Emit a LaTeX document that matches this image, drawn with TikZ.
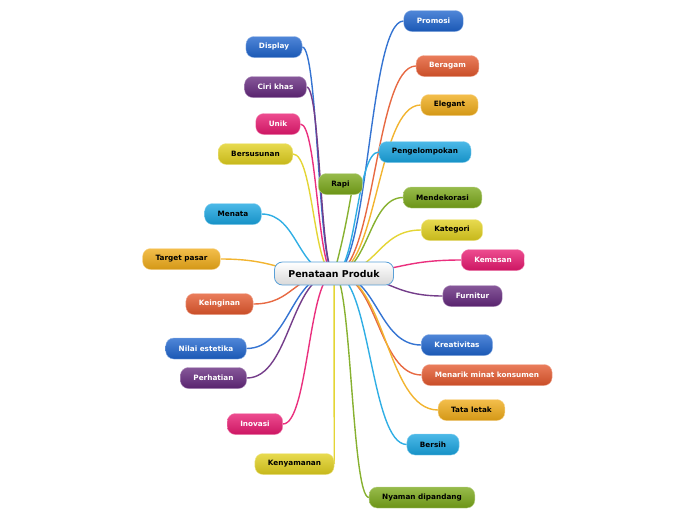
\documentclass[tikz,border=0pt]{standalone}
\usepackage{fontspec}
\setsansfont{DejaVu Sans}
\usetikzlibrary{backgrounds, calc}
\definecolor{mmblue}{RGB}{30,100,205}
\definecolor{mmorange}{RGB}{228,88,45}
\definecolor{mmamber}{RGB}{240,172,25}
\definecolor{mmcyan}{RGB}{25,165,225}
\definecolor{mmgreen}{RGB}{122,168,25}
\definecolor{mmyellow}{RGB}{225,208,30}
\definecolor{mmpink}{RGB}{232,25,112}
\definecolor{mmpurple}{RGB}{100,40,125}
\definecolor{rootline}{RGB}{90,160,215}

\begin{document}
\begin{tikzpicture}[
    x=1pt, y=-1pt,
    every node/.style={font=\sffamily\bfseries\fontsize{7.3}{8}\selectfont},
    root/.style={draw=rootline, line width=0.8pt, rounded corners=8pt, top color=white, bottom color=black!15, minimum height=23pt, inner xsep=14pt, font=\sffamily\bfseries\fontsize{9.4}{11}\selectfont},
    topic/.style={draw=#1!50!white, top color=#1!78!white, bottom color=#1!88!black, rounded corners=8pt, minimum height=21pt, inner xsep=13pt, inner ysep=2pt, text=white},
    lighttopic/.style={topic=#1, text=black},
    link/.style={draw=#1!90!white, line width=1.4pt,
        to path={.. controls ($(\tikztostart)!0.5!(\tikztostart -| \tikztotarget)$)
            and ($(\tikztotarget)!0.5!(\tikztotarget -| \tikztostart)$) .. (\tikztotarget)}},
]
\useasboundingbox (0,0) rectangle (696,520);

%% Central topic
\node[root] (root) at (334, 273.5) {Penataan Produk};

%% Right branches
\node[topic=mmblue] (promosi) at (433.5, 21) {Promosi};
\node[topic=mmorange] (beragam) at (447.5, 66) {Beragam};
\node[lighttopic=mmamber] (elegant) at (449.5, 105) {Elegant};
\node[lighttopic=mmcyan] (pengelompokan) at (425, 152) {Pengelompokan};
\node[lighttopic=mmgreen] (mendekorasi) at (442.5, 197.5) {Mendekorasi};
\node[lighttopic=mmyellow] (kategori) at (452, 230) {Kategori};
\node[topic=mmpink] (kemasan) at (493, 260) {Kemasan};
\node[topic=mmpurple] (furnitur) at (472.5, 296) {Furnitur};
\node[topic=mmblue] (kreativitas) at (457, 345) {Kreativitas};
\node[topic=mmorange] (menarik) at (487, 375) {Menarik minat konsumen};
\node[lighttopic=mmamber] (tataletak) at (471.5, 410) {Tata letak};
\node[lighttopic=mmcyan] (bersih) at (433, 444.5) {Bersih};
\node[lighttopic=mmgreen] (nyaman) at (422, 497.5) {Nyaman dipandang};

%% Left branches
\node[topic=mmblue] (display) at (274, 47) {Display};
\node[topic=mmpurple] (cirikhas) at (275.5, 87) {Ciri khas};
\node[topic=mmpink] (unik) at (278, 124) {Unik};
\node[lighttopic=mmyellow] (bersusunan) at (255.5, 154) {Bersusunan};
\node[lighttopic=mmgreen] (rapi) at (340.5, 184) {Rapi};
\node[lighttopic=mmcyan] (menata) at (233, 214) {Menata};
\node[lighttopic=mmamber] (target) at (181.5, 259) {Target pasar};
\node[topic=mmorange] (keinginan) at (219.5, 304) {Keinginan};
\node[topic=mmblue] (nilai) at (206, 348.5) {Nilai estetika};
\node[topic=mmpurple] (perhatian) at (213.5, 378) {Perhatian};
\node[topic=mmpink] (inovasi) at (255, 424) {Inovasi};
\node[lighttopic=mmyellow] (kenyamanan) at (294.5, 464) {Kenyamanan};

%% Connections
\begin{scope}[on background layer]
\draw[link=mmblue] (root.center) to (promosi.west);
\draw[link=mmorange] (root.center) to (beragam.west);
\draw[link=mmamber] (root.center) to (elegant.west);
\draw[link=mmcyan] (root.center) to (pengelompokan.west);
\draw[link=mmgreen] (root.center) to (mendekorasi.west);
\draw[link=mmyellow] (root.center) to (kategori.west);
\draw[link=mmpink] (root.center) to (kemasan.west);
\draw[link=mmpurple] (root.center) to (furnitur.west);
\draw[link=mmblue] (root.center) to (kreativitas.west);
\draw[link=mmorange] (root.center) to (menarik.west);
\draw[link=mmamber] (root.center) to (tataletak.west);
\draw[link=mmcyan] (root.center) to (bersih.west);
\draw[link=mmgreen] (root.center) to (nyaman.west);

\draw[link=mmblue] (root.center) to (display.east);
\draw[link=mmpurple] (root.center) to (cirikhas.east);
\draw[link=mmpink] (root.center) to (unik.east);
\draw[link=mmyellow] (root.center) to (bersusunan.east);
\draw[link=mmgreen] (root.center) to[out=75, in=-100] (rapi.-45);
\draw[link=mmcyan] (root.center) to (menata.east);
\draw[link=mmamber] (root.center) to (target.east);
\draw[link=mmorange] (root.center) to (keinginan.east);
\draw[link=mmblue] (root.center) to (nilai.east);
\draw[link=mmpurple] (root.center) to (perhatian.east);
\draw[link=mmpink] (root.center) to (inovasi.east);
\draw[link=mmyellow] (root.center) to (kenyamanan.east);
\end{scope}

\end{tikzpicture}
\end{document}
